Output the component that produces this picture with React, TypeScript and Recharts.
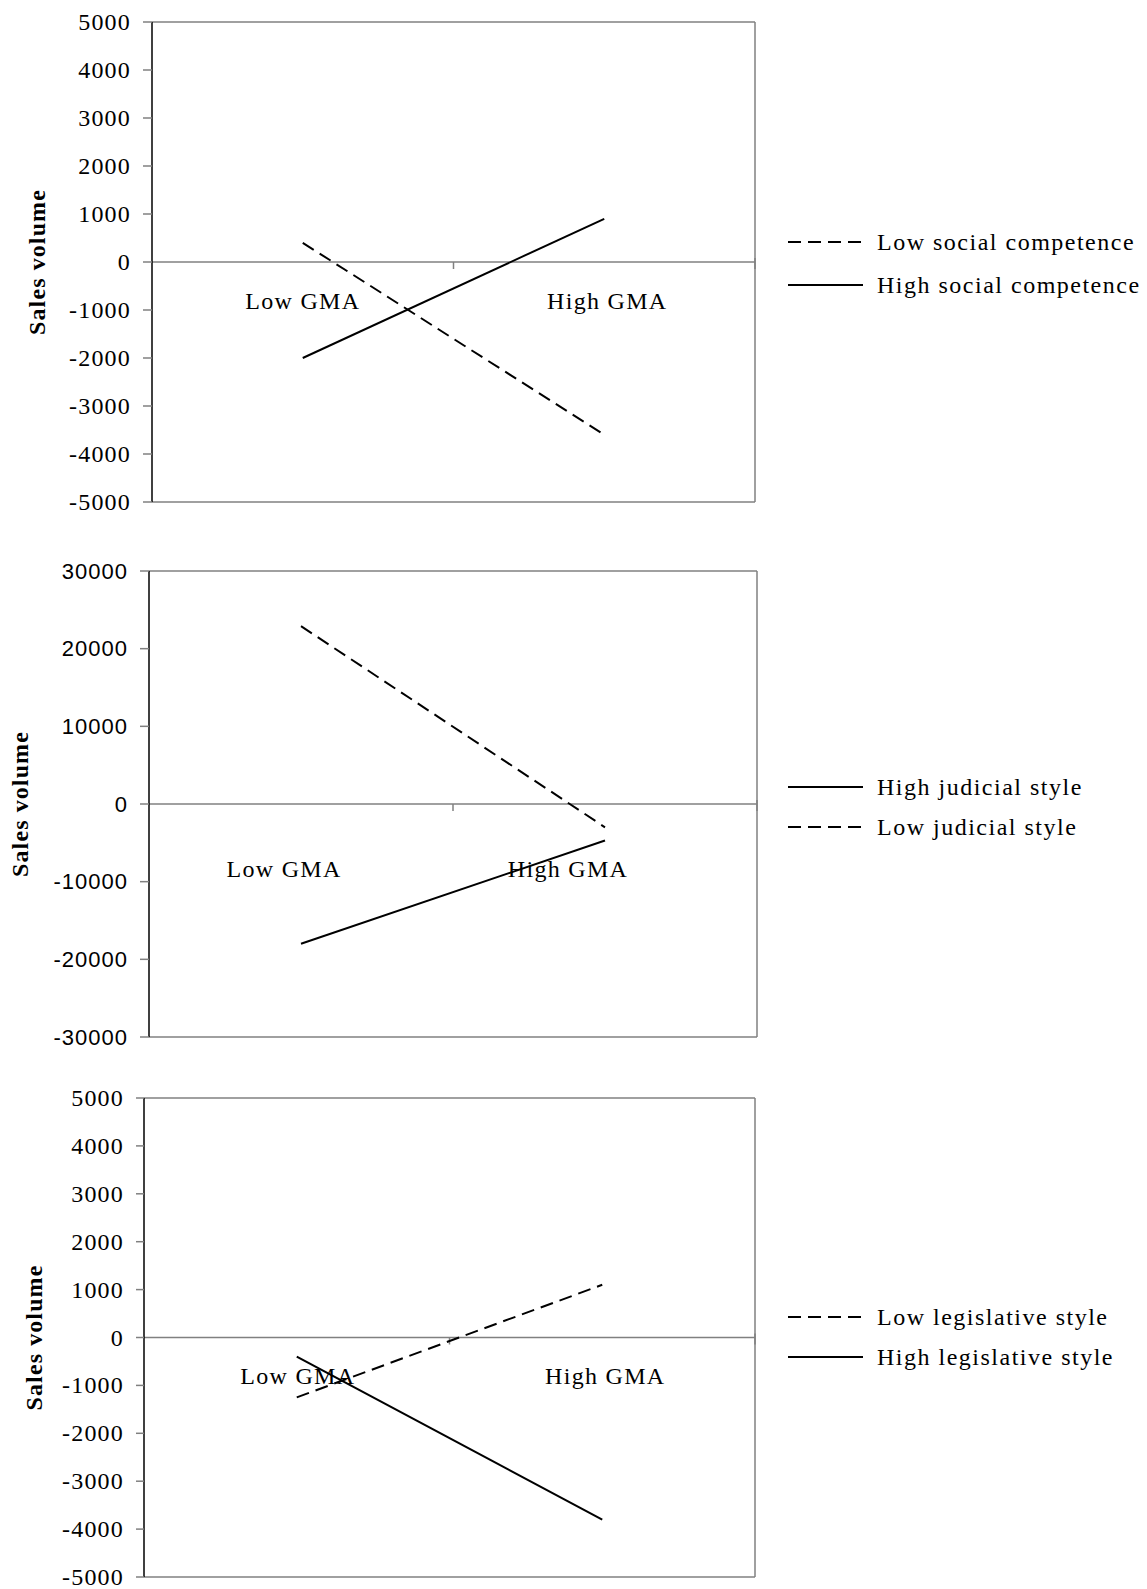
import React from "react";
import {
  LineChart,
  Line,
  XAxis,
  YAxis,
  ReferenceLine,
  ReferenceDot,
  Legend,
} from "recharts";

const categories = ["Low GMA", "High GMA"];

// panel 1: social competence
const lowSocialCompetence = [400, -3600];
const highSocialCompetence = [-2000, 900];

// panel 2: judicial style
const highJudicialStyle = [-18000, -4700];
const lowJudicialStyle = [22900, -3000];

// panel 3: legislative style
const lowLegislativeStyle = [-1250, 1100];
const highLegislativeStyle = [-400, -3800];

const ticksSmall = [-5000, -4000, -3000, -2000, -1000, 0, 1000, 2000, 3000, 4000, 5000];
const ticksLarge = [-30000, -20000, -10000, 0, 10000, 20000, 30000];

const SERIF = '"Liberation Serif", "Times New Roman", serif';
const SANS = '"Liberation Sans", Arial, sans-serif';
const GRAY = "#808080";
const DASH = "13 7";

type Series = { key: string; name: string; values: number[]; dashed: boolean };

type PanelProps = {
  top: number;
  height: number;
  plotLeft: number;
  plotRight: number;
  marginTop: number;
  marginBottom: number;
  ticks: number[];
  tickFont: string;
  tickFontSize: number;
  tickSize: number;
  tickMargin: number;
  titleX: number;
  series: Series[];
  legendTop: number;
  legendRow: number;
  labelDx: number[];
  labelDy: number;
};

// zero line with Excel style tick marks between the categories and at the end
function ZeroAxis(props: any) {
  const { x1, y1, x2, y2 } = props;
  const mid = (x1 + x2) / 2;
  return (
    <g>
      <line x1={x1} y1={y1} x2={x2} y2={y2} stroke={GRAY} strokeWidth={1.5} />
      <line x1={mid} y1={y1} x2={mid} y2={y1 + 7} stroke={GRAY} strokeWidth={1.5} />
      <line x1={x2} y1={y1 - 4} x2={x2} y2={y1 + 7} stroke={GRAY} strokeWidth={1.5} />
    </g>
  );
}

function LegendBox({ series, row }: { series: Series[]; row: number }) {
  return (
    <div style={{ textAlign: "left" }}>
      {series.map((s) => (
        <div
          key={s.key}
          style={{ display: "flex", alignItems: "center", height: row }}
        >
          <svg width={75} height={4} style={{ display: "block" }}>
            <line
              x1={0}
              y1={2}
              x2={75}
              y2={2}
              stroke="#000"
              strokeWidth={2}
              strokeDasharray={s.dashed ? DASH : undefined}
            />
          </svg>
          <span
            style={{
              marginLeft: 14,
              fontFamily: SERIF,
              fontSize: 24,
              letterSpacing: 1.5,
              lineHeight: 1,
              color: "#000",
              whiteSpace: "nowrap",
            }}
          >
            {s.name}
          </span>
        </div>
      ))}
    </div>
  );
}

function Panel(p: PanelProps) {
  const data = categories.map((name, i) => {
    const row: Record<string, string | number> = { name };
    p.series.forEach((s) => (row[s.key] = s.values[i]));
    return row;
  });
  const domain: [number, number] = [p.ticks[0], p.ticks[p.ticks.length - 1]];

  const renderTick = (tp: any) => (
    <text
      x={tp.x}
      y={tp.y}
      textAnchor="end"
      dominantBaseline="central"
      fontFamily={p.tickFont}
      fontSize={p.tickFontSize}
      letterSpacing={p.tickFont === SERIF ? 1.2 : 1}
      fill="#000"
    >
      {tp.payload.value}
    </text>
  );

  return (
    <div style={{ position: "absolute", left: 0, top: p.top }}>
      <LineChart
        width={1147}
        height={p.height}
        data={data}
        margin={{
          top: p.marginTop - 1,
          right: 1147 - p.plotRight - 1,
          bottom: p.marginBottom - 1,
          left: 0,
        }}
      >
        <XAxis
          dataKey="name"
          scale="band"
          height={1}
          tick={false}
          tickLine={false}
          axisLine={{ stroke: GRAY, strokeWidth: 1.5 }}
        />
        <XAxis
          xAxisId="top"
          orientation="top"
          dataKey="name"
          scale="band"
          height={1}
          tick={false}
          tickLine={false}
          axisLine={{ stroke: GRAY, strokeWidth: 1.5 }}
        />
        <YAxis
          yAxisId="frame"
          orientation="right"
          width={1}
          domain={domain}
          tick={false}
          tickLine={false}
          axisLine={{ stroke: GRAY, strokeWidth: 1.5 }}
        />
        <YAxis
          type="number"
          domain={domain}
          ticks={p.ticks}
          interval={0}
          allowDataOverflow
          width={p.plotLeft}
          tickSize={p.tickSize}
          tickMargin={p.tickMargin}
          axisLine={{ stroke: "#000", strokeWidth: 1.5 }}
          tickLine={{ stroke: GRAY, strokeWidth: 1.5 }}
          tick={renderTick}
          label={(lp: any) => {
            const vb = lp.viewBox || {};
            const cy = vb.y + vb.height / 2;
            return (
              <text
                x={p.titleX}
                y={cy}
                transform={`rotate(-90 ${p.titleX} ${cy})`}
                textAnchor="middle"
                dominantBaseline="central"
                fontFamily={SERIF}
                fontWeight="bold"
                fontSize={24}
                letterSpacing={1.1}
                fill="#000"
              >
                Sales volume
              </text>
            );
          }}
        />
        <ReferenceLine y={0} shape={ZeroAxis} />
        {categories.map((c, i) => (
          <ReferenceDot
            key={c}
            x={c}
            y={0}
            r={0}
            fill="none"
            stroke="none"
            label={(lp: any) => {
              const vb = lp.viewBox || {};
              return (
                <text
                  x={vb.x + (vb.width || 0) / 2 + p.labelDx[i]}
                  y={vb.y + (vb.height || 0) / 2 + p.labelDy}
                  textAnchor="middle"
                  dominantBaseline="central"
                  fontFamily={SERIF}
                  fontSize={24}
                  letterSpacing={1.3}
                  fill="#000"
                >
                  {c}
                </text>
              );
            }}
          />
        ))}
        {p.series.map((s) => (
          <Line
            key={s.key}
            dataKey={s.key}
            name={s.name}
            type="linear"
            stroke="#000"
            strokeWidth={2}
            strokeDasharray={s.dashed ? DASH : undefined}
            dot={false}
            activeDot={false}
            isAnimationActive={false}
          />
        ))}
        <Legend
          layout="horizontal"
          align="center"
          verticalAlign="middle"
          wrapperStyle={{ left: 788, top: p.legendTop, width: 359 }}
          content={() => <LegendBox series={p.series} row={p.legendRow} />}
        />
      </LineChart>
    </div>
  );
}

export default function App() {
  return (
    <div
      style={{
        position: "absolute",
        left: 0,
        top: 0,
        width: 1147,
        height: 1589,
        background: "#fff",
      }}
    >
      <Panel
        top={0}
        height={530}
        plotLeft={152}
        plotRight={755}
        marginTop={22}
        marginBottom={28}
        ticks={ticksSmall}
        tickFont={SERIF}
        tickFontSize={24}
        tickSize={9}
        tickMargin={12}
        titleX={37}
        series={[
          { key: "lowSC", name: "Low social competence", values: lowSocialCompetence, dashed: true },
          { key: "highSC", name: "High social competence", values: highSocialCompetence, dashed: false },
        ]}
        legendTop={220}
        legendRow={43}
        labelDx={[0, 3]}
        labelDy={39}
      />
      <Panel
        top={540}
        height={520}
        plotLeft={149}
        plotRight={757}
        marginTop={31}
        marginBottom={23}
        ticks={ticksLarge}
        tickFont={SANS}
        tickFontSize={22}
        tickSize={9}
        tickMargin={12}
        titleX={20}
        series={[
          { key: "highJS", name: "High judicial style", values: highJudicialStyle, dashed: false },
          { key: "lowJS", name: "Low judicial style", values: lowJudicialStyle, dashed: true },
        ]}
        legendTop={227}
        legendRow={40}
        labelDx={[-17, -37]}
        labelDy={65}
      />
      <Panel
        top={1070}
        height={519}
        plotLeft={144}
        plotRight={755}
        marginTop={28}
        marginBottom={12}
        ticks={ticksSmall}
        tickFont={SERIF}
        tickFontSize={24}
        tickSize={8}
        tickMargin={12}
        titleX={34}
        series={[
          { key: "lowLS", name: "Low legislative style", values: lowLegislativeStyle, dashed: true },
          { key: "highLS", name: "High legislative style", values: highLegislativeStyle, dashed: false },
        ]}
        legendTop={227}
        legendRow={40}
        labelDx={[1, 3]}
        labelDy={38}
      />
    </div>
  );
}
